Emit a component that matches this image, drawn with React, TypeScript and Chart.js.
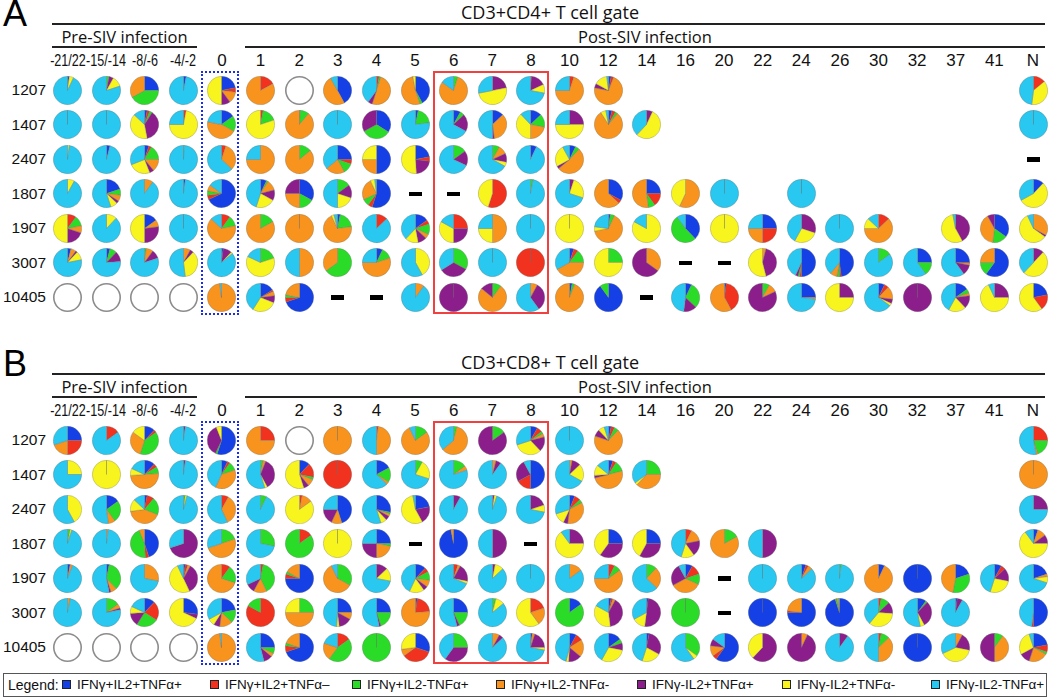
import React, { useEffect, useRef } from "react";
import { Chart, registerables } from "chart.js";
Chart.register(...registerables);

// ---------- DATA ----------
const COLUMNS = ["-21/22", "-15/-14", "-8/-6", "-4/-2", "0", "1", "2", "3", "4", "5", "6", "7", "8", "10", "12", "14", "16", "20", "22", "24", "26", "30", "32", "37", "41", "N"];
const PRE_COLS = 4;
const ANIMALS = ["1207", "1407", "2407", "1807", "1907", "3007", "10405"];
const SUBSETS = ["IFNγ+IL2+TNFα+", "IFNγ+IL2+TNFα–", "IFNγ+IL2-TNFα+", "IFNγ+IL2-TNFα-", "IFNγ-IL2+TNFα+", "IFNγ-IL2+TNFα-", "IFNγ-IL2-TNFα+"];
const COLORS = ["#1440e6", "#f0321e", "#2adc28", "#f8941e", "#8c1e8c", "#f8f51e", "#28c8f0"];

// null = no sample, D = dash (not done), O = empty circle (no response)
const _ = null;
const D = "dash";
const O = "none";
type Cell = number[] | string | null;

// values per cell, order = SUBSETS
const cd4_1207: Cell[] = [[2,0,0,0,0,5,93],[0,0,3,0,5,12,80],[25,0,42,33,0,0,0],[3,0,0,0,0,0,97],[22,5,0,13,10,50,0],[0,17,0,83,0,0,0],O,[42,0,0,50,0,0,8],[0,3,2,50,5,0,40],[42,0,3,52,0,3,0],[0,0,5,80,0,0,15],[0,0,0,0,22,50,28],[0,0,0,1,17,10,72],[0,5,0,70,0,0,25],[3,3,0,72,5,15,2],_,_,_,_,_,_,_,_,_,_,[0,14,0,0,0,38,48]];
const cd4_1407: Cell[] = [[0,0,0,0,0,0,100],[0,0,0,0,0,0,100],[3,3,3,0,38,40,13],[0,3,0,0,0,72,25],[15,0,18,45,0,0,22],[0,3,17,0,0,80,0],[1,0,10,89,0,0,0],[0,0,0,0,0,0,100],[34,0,33,0,33,0,0],[3,0,20,0,0,0,77],[8,0,5,0,20,0,67],[13,0,0,35,2,0,50],[13,0,15,22,0,38,12],[0,0,0,0,25,50,25],[4,4,3,80,0,6,3],[0,0,0,0,7,55,38],_,_,_,_,_,_,_,_,_,[0,0,0,0,0,0,100]];
const cd4_2407: Cell[] = [[0,0,0,0,0,2,98],[4,0,0,0,0,0,96],[5,3,17,14,5,25,31],[0,0,1,0,0,0,99],[0,5,0,32,0,0,63],[0,0,0,75,0,0,25],[0,0,14,86,0,0,0],[25,5,12,22,0,0,36],[50,0,0,25,0,25,0],[22,5,0,0,22,51,0],[0,0,15,0,17,0,68],[0,0,8,10,10,5,67],[7,0,0,0,0,0,93],[7,0,5,52,3,25,8],_,_,_,_,_,_,_,_,_,_,_,D];
const cd4_1807: Cell[] = [[0,0,0,0,0,8,92],[20,0,7,7,3,8,55],[0,0,0,10,0,0,90],[2,0,0,0,0,0,98],[68,5,5,7,0,0,15],[7,0,2,12,12,22,45],[33,0,17,25,25,0,0],[0,0,15,0,15,20,50],[55,5,8,25,0,5,2],D,D,[0,55,0,0,0,45,0],[0,0,3,0,0,0,97],[0,0,0,0,5,25,70],[33,4,0,63,0,0,0],[25,15,8,52,0,0,0],[0,0,0,57,0,43,0],[0,0,0,0,0,0,100],_,[0,0,0,0,0,0,100],_,_,_,_,_,[12,0,0,0,0,55,33]];
const cd4_1907: Cell[] = [[0,10,12,8,20,50,0],[0,0,0,0,0,12,88],[15,0,0,8,27,50,0],[0,0,0,0,0,0,100],[0,10,12,65,0,0,13],[0,0,17,83,0,0,0],[0,0,0,100,0,0,0],[3,0,20,70,0,3,4],[0,13,0,0,0,0,87],[15,5,12,5,10,15,38],[0,25,0,0,25,33,17],[0,0,0,50,0,25,25],[0,0,0,0,0,0,100],[0,0,0,0,0,100,0],[2,0,5,65,0,5,23],[0,0,0,0,0,83,17],[38,0,52,0,0,0,10],[0,0,0,0,0,100,0],[25,25,0,25,0,0,25],[0,0,0,0,30,28,42],[0,0,0,0,0,0,100],[0,13,0,62,0,12,13],_,[0,0,0,0,42,55,3],[35,0,17,40,8,0,0],[0,0,0,33,2,58,7]];
const cd4_3007: Cell[] = [[4,0,0,6,2,10,78],[4,0,8,0,12,0,76],[0,0,2,8,10,0,80],[0,0,0,8,4,36,52],[2,0,0,0,10,2,86],[0,0,20,0,0,62,18],[0,0,0,50,0,0,50],[0,0,65,35,0,0,0],[7,0,13,55,0,0,25],[0,0,0,0,0,42,58],[0,0,33,0,33,0,34],[0,0,0,0,0,0,100],[0,100,0,0,0,0,0],[5,5,15,42,0,0,33],[0,0,25,0,0,75,0],[0,0,0,35,65,0,0],D,D,[0,0,0,4,42,54,0],[50,2,2,0,3,0,43],[48,2,3,8,0,0,39],[0,0,15,0,0,0,85],[25,0,15,0,0,0,60],[25,1,0,2,12,0,60],[60,0,15,25,0,0,0],[0,0,0,0,12,50,38]];
const cd4_10405: Cell[] = [O,O,O,O,[0,0,0,98,0,0,2],[16,2,0,5,8,28,41],[70,5,3,22,0,0,0],D,D,[0,0,0,10,0,0,90],[0,0,0,0,100,0,0],[0,0,10,76,14,0,0],[0,0,0,8,32,0,60],[3,0,3,94,0,0,0],[90,0,10,0,0,0,0],D,[7,0,30,0,15,0,48],[2,40,0,58,0,0,0],[0,0,8,10,82,0,0],[25,0,0,2,0,0,73],[0,0,0,0,25,75,0],[7,5,0,15,5,3,65],[0,0,0,0,100,0,0],[15,0,5,3,15,20,42],[0,0,0,0,25,68,7],[22,18,0,0,0,60,0]];

const cd8_1207: Cell[] = [[25,25,0,20,0,0,30],[0,15,0,0,0,0,85],[12,3,40,30,0,15,0],[0,0,0,0,2,0,98],[55,0,2,0,37,6,0],[0,25,0,75,0,0,0],O,[0,0,0,100,0,0,0],[0,2,0,48,0,0,50],[0,0,15,78,0,0,7],[0,0,4,60,0,0,36],[0,0,15,0,85,0,0],[8,6,3,4,17,32,30],[0,0,0,0,0,0,100],[3,4,5,68,8,7,5],_,_,_,_,_,_,_,_,_,_,[0,25,20,2,0,0,53]];
const cd8_1407: Cell[] = [[0,0,0,0,0,25,75],[0,0,0,0,0,100,0],[12,4,8,50,0,8,18],[0,0,0,0,2,0,98],[7,3,10,37,0,0,43],[0,0,3,3,36,3,55],[12,16,3,8,6,55,0],[0,100,0,0,0,0,0],[17,0,17,3,0,0,63],[0,0,8,0,0,22,70],[0,0,15,5,0,0,80],[0,0,0,4,6,0,90],[50,17,0,0,25,0,8],[0,0,0,3,10,20,67],[5,4,12,50,3,12,14],[0,0,25,37,0,3,35],_,_,_,_,_,_,_,_,_,[0,0,0,100,0,0,0]];
const cd8_2407: Cell[] = [[0,0,0,0,0,42,58],[15,0,25,8,0,0,52],[3,8,20,42,0,14,13],[0,0,2,0,0,2,96],[0,8,0,35,0,0,57],[0,0,7,0,0,0,93],[0,3,0,12,0,85,0],[45,0,0,12,18,0,25],[28,0,2,3,5,7,55],[22,0,0,0,20,55,3],[0,0,0,0,8,0,92],[0,0,0,0,2,3,95],[0,0,0,0,20,8,72],[6,7,4,35,5,13,30],_,_,_,_,_,_,_,_,_,_,_,[0,0,0,0,25,0,75]];
const cd8_1807: Cell[] = [[0,0,3,0,0,2,95],[0,0,0,2,0,0,98],[45,4,45,6,0,0,0],[0,0,0,0,70,0,30],[0,0,20,50,0,0,30],[0,0,28,0,0,0,72],[0,15,85,0,0,0,0],[0,0,0,0,0,100,0],[25,0,3,22,25,0,25],D,[97,0,0,3,0,0,0],[0,0,0,0,50,0,50],D,[0,0,0,0,25,65,10],[25,0,0,0,35,40,0],[25,0,0,0,33,42,0],[0,7,0,15,18,15,45],[0,0,17,83,0,0,0],[0,0,0,0,50,0,50],_,_,_,_,_,_,[5,0,0,10,10,65,10]];
const cd8_1907: Cell[] = [[3,0,0,3,0,0,94],[3,0,35,7,2,0,53],[0,0,0,28,0,0,72],[2,3,0,3,35,50,7],[0,10,20,70,0,0,0],[0,3,40,15,10,0,32],[75,5,3,17,0,0,0],[0,0,33,60,0,0,7],[0,0,0,0,13,15,72],[12,5,10,8,5,17,43],[0,5,0,3,20,3,69],[0,0,0,0,3,10,87],[0,0,0,0,0,0,100],[0,0,0,15,0,0,85],[0,7,8,60,0,0,25],[0,0,12,25,0,0,63],[8,12,12,35,25,0,8],D,[0,0,0,0,0,0,100],[5,3,0,5,0,0,87],[0,0,2,0,0,0,98],[7,0,0,93,0,0,0],[100,0,0,0,0,0,0],[20,0,33,47,0,0,0],[8,5,0,0,15,27,45],[20,0,0,3,0,7,70]];
const cd8_3007: Cell[] = [[0,0,0,3,0,0,97],[0,0,15,5,2,0,78],[12,22,25,0,15,8,18],[27,0,0,0,5,68,0],[22,0,15,15,7,8,33],[0,83,17,0,0,0,0],[0,0,25,50,0,25,0],[25,0,0,8,15,3,49],[25,0,20,0,2,0,53],[2,22,0,76,0,0,0],[25,0,18,0,3,0,54],[0,0,4,0,0,10,86],[0,20,0,20,0,60,0],[15,0,85,0,0,0,0],[3,2,0,3,40,35,17],[2,0,0,0,50,15,33],[0,0,100,0,0,0,0],D,[100,0,0,0,0,0,0],[75,2,0,23,0,0,0],[95,0,2,2,0,0,1],[0,3,10,0,13,35,39],[10,0,2,0,30,5,53],[2,0,0,0,6,0,92],_,[50,2,0,0,0,0,48]];
const cd8_10405: Cell[] = [O,O,O,O,[0,0,0,98,0,0,2],[25,0,7,4,10,0,54],[70,7,3,20,0,0,0],[0,15,45,20,0,0,20],[0,0,100,0,0,0,0],[30,35,0,8,0,27,0],[0,0,25,0,35,0,40],[0,0,0,8,5,0,87],[2,0,0,3,20,3,72],[8,8,0,20,15,3,46],[15,0,5,0,8,30,42],[3,0,0,0,30,22,45],[0,0,35,0,0,5,60],[60,5,0,12,8,0,15],[0,0,0,0,62,38,0],[0,0,0,7,93,0,0],[0,0,0,0,10,0,90],[0,3,10,37,0,0,50],[100,0,0,0,0,0,0],[0,0,0,8,20,40,32],[0,0,10,40,50,0,0],[22,8,3,22,12,28,5]];

const PANELS = [
  { letter: "A", title: "CD3+CD4+ T cell gate", rows: [cd4_1207, cd4_1407, cd4_2407, cd4_1807, cd4_1907, cd4_3007, cd4_10405] },
  { letter: "B", title: "CD3+CD8+ T cell gate", rows: [cd8_1207, cd8_1407, cd8_2407, cd8_1807, cd8_1907, cd8_3007, cd8_10405] },
];

// ---------- LAYOUT ----------
const S = 29;
const X0 = 67.5;
const DX = 38.62;
const ROW0 = 90;
const DY = 34.5;
const PANEL_DY = 350;
const colX = (i: number) => X0 + DX * i;

const ARIAL = "'Liberation Sans', Arial, sans-serif";
const HUMAN = "'Open Sans', 'Liberation Sans', sans-serif";

function PieCell({ x, y, values }: { x: number; y: number; values: number[] }) {
  const ref = useRef<HTMLCanvasElement | null>(null);
  useEffect(() => {
    const idx = values.map((_v, i) => i).filter((i) => values[i] > 0);
    const chart = new Chart(ref.current as HTMLCanvasElement, {
      type: "pie",
      data: {
        labels: idx.map((i) => SUBSETS[i]),
        datasets: [{
          data: idx.map((i) => values[i]),
          backgroundColor: idx.map((i) => COLORS[i]),
          borderColor: "rgba(110,110,110,0.55)",
          borderWidth: 0.6,
        }],
      },
      options: {
        responsive: false,
        animation: false,
        devicePixelRatio: 1,
        events: [],
        layout: { padding: 0 },
        plugins: { legend: { display: false }, tooltip: { enabled: false } },
      },
    });
    return () => chart.destroy();
  }, []);
  return <canvas ref={ref} width={S} height={S} style={{ position: "absolute", left: x - S / 2, top: y - S / 2, width: S, height: S }} />;
}

function RingCell({ x, y }: { x: number; y: number }) {
  const ref = useRef<HTMLCanvasElement | null>(null);
  useEffect(() => {
    const chart = new Chart(ref.current as HTMLCanvasElement, {
      type: "doughnut",
      data: { labels: ["none"], datasets: [{ data: [1], backgroundColor: ["#8c8c8c"], borderWidth: 0 }] },
      options: {
        responsive: false,
        animation: false,
        devicePixelRatio: 1,
        events: [],
        cutout: "89%",
        plugins: { legend: { display: false }, tooltip: { enabled: false } },
      },
    });
    return () => chart.destroy();
  }, []);
  return <canvas ref={ref} width={S} height={S} style={{ position: "absolute", left: x - S / 2, top: y - S / 2, width: S, height: S }} />;
}

function Panel({ p, oy }: { p: typeof PANELS[number]; oy: number }) {
  const items: React.ReactNode[] = [];
  p.rows.forEach((row, r) => {
    const y = oy + ROW0 + DY * r;
    items.push(
      <div key={"rl" + r} style={{ position: "absolute", right: 1050 - 46, top: y - 10, height: 20, lineHeight: "20px", fontSize: 15.5, fontFamily: ARIAL, color: "#111", textAlign: "right" }}>{ANIMALS[r]}</div>
    );
    row.forEach((cell, c) => {
      const x = colX(c);
      const k = p.letter + r + "_" + c;
      if (cell === null) return;
      if (cell === D) {
        items.push(<div key={k} style={{ position: "absolute", left: x - 6.5, top: y - 2, width: 13, height: 4.5, background: "#000" }} />);
      } else if (cell === O) {
        items.push(<RingCell key={k} x={x} y={y} />);
      } else {
        items.push(<PieCell key={k} x={x} y={y} values={cell as number[]} />);
      }
    });
  });
  const line = (x1: number, x2: number, y: number, key: string) => (
    <div key={key} style={{ position: "absolute", left: x1, top: y - 1, width: x2 - x1, height: 2, background: "#222" }} />
  );
  return (
    <>
      <div style={{ position: "absolute", left: 3, top: oy - 6, fontSize: 36, fontFamily: ARIAL, color: "#000", lineHeight: "40px" }}>{p.letter}</div>
      <div style={{ position: "absolute", left: 300, width: 500, top: oy + 1, textAlign: "center", fontSize: 18, fontFamily: HUMAN, color: "#111", lineHeight: "22px" }}>{p.title}</div>
      {line(52, 1045, oy + 24, "t")}
      <div style={{ position: "absolute", left: 52, width: 145, top: oy + 27, textAlign: "center", fontSize: 16.5, fontFamily: HUMAN, color: "#111", lineHeight: "20px" }}>Pre-SIV infection</div>
      {line(52, 197, oy + 47, "pre")}
      <div style={{ position: "absolute", left: 545, width: 200, top: oy + 27, textAlign: "center", fontSize: 16.5, fontFamily: HUMAN, color: "#111", lineHeight: "20px" }}>Post-SIV infection</div>
      {line(245, 1045, oy + 47, "post")}
      {COLUMNS.map((c, i) => (
        <div key={"cl" + i} style={{ position: "absolute", left: colX(i) - 30, width: 60, top: oy + 51, textAlign: "center", fontSize: 17, fontFamily: ARIAL, color: "#111", lineHeight: "20px", transform: i < PRE_COLS ? "scaleX(0.74)" : undefined }}>{c}</div>
      ))}
      <div style={{ position: "absolute", left: 201, top: oy + 71, width: 38, height: 244, boxSizing: "border-box", border: "2px dotted #1a2ee8" }} />
      <div style={{ position: "absolute", left: 433, top: oy + 71, width: 116, height: 243, boxSizing: "border-box", border: "2px solid #f04040" }} />
      {items}
    </>
  );
}

const LEGEND_X = [62, 210, 352, 496, 637, 782, 931];

export default function App() {
  return (
    <div style={{ position: "absolute", left: 0, top: 0, width: 1050, height: 698, background: "#fff", overflow: "hidden" }}>
      {PANELS.map((p, i) => <Panel key={p.letter} p={p} oy={i * PANEL_DY} />)}
      <div style={{ position: "absolute", left: 3, top: 673, width: 1044, height: 24, boxSizing: "border-box", border: "1.5px solid #555" }} />
      <div style={{ position: "absolute", left: 8, top: 675, fontSize: 14, fontFamily: ARIAL, lineHeight: "20px", color: "#111" }}>Legend:</div>
      {SUBSETS.map((s, i) => (
        <React.Fragment key={s}>
          <div style={{ position: "absolute", left: LEGEND_X[i], top: 680, width: 9, height: 9, boxSizing: "border-box", border: "1.5px solid #222", background: COLORS[i] }} />
          <div style={{ position: "absolute", left: LEGEND_X[i] + 15, top: 675, fontSize: 13.5, fontFamily: ARIAL, lineHeight: "20px", color: "#111", whiteSpace: "nowrap" }}>{s}</div>
        </React.Fragment>
      ))}
    </div>
  );
}
